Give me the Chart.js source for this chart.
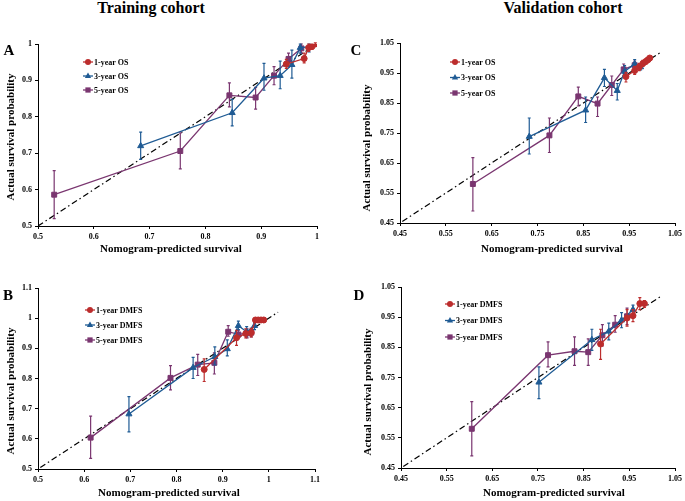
<!DOCTYPE html>
<html><head><meta charset="utf-8">
<script src="https://cdn.jsdelivr.net/npm/chart.js@4.4.1/dist/chart.umd.min.js"></script>
<style>
html,body{margin:0;padding:0;background:#fff;width:685px;height:501px;overflow:hidden;}
#wrap{position:relative;width:685px;height:501px;}
canvas{position:absolute;}
.t{position:absolute;font-family:"Liberation Serif","Times New Roman",serif;font-weight:bold;color:#000;white-space:nowrap;transform:translate(-50%,-50%);line-height:1;}
</style></head><body>
<div id="wrap">
<canvas id="cA" width="345" height="235" style="left:0;top:25px;"></canvas>
<canvas id="cB" width="345" height="231" style="left:0;top:270px;"></canvas>
<canvas id="cC" width="340" height="235" style="left:345px;top:25px;"></canvas>
<canvas id="cD" width="340" height="231" style="left:345px;top:270px;"></canvas>
<div class="t" style="left:151px;top:8px;font-size:16px;">Training cohort</div>
<div class="t" style="left:563px;top:8px;font-size:16px;">Validation cohort</div>
<div class="t" style="left:9px;top:50px;font-size:15px;">A</div>
<div class="t" style="left:8px;top:295px;font-size:15px;">B</div>
<div class="t" style="left:356px;top:50px;font-size:15px;">C</div>
<div class="t" style="left:359px;top:295px;font-size:15px;">D</div>
</div>
<script>
// ---------- Tick labels ----------
const ticksA_x = ['0.5','0.6','0.7','0.8','0.9','1'];
const ticksA_y = ['0.5','0.6','0.7','0.8','0.9','1'];
const ticksB_x = ['0.5','0.6','0.7','0.8','0.9','1','1.1'];
const ticksB_y = ['0.5','0.6','0.7','0.8','0.9','1','1.1'];
const ticksC_x = ['0.45','0.55','0.65','0.75','0.85','0.95','1.05'];
const ticksC_y = ['0.45','0.55','0.65','0.75','0.85','0.95','1.05'];
const ticksD_x = ['0.45','0.55','0.65','0.75','0.85','0.95','1.05'];
const ticksD_y = ['0.45','0.55','0.65','0.75','0.85','0.95','1.05'];

// ---------- Series labels ----------
const labelsOS = ['1-year OS','3-year OS','5-year OS'];
const labelsDMFS = ['1-year DMFS','3-year DMFS','5-year DMFS'];
const xTitle = 'Nomogram-predicted survival';
const yTitle = 'Actual survival probability';

// ---------- Panel A: Training, OS ----------
const A_1y_pred = [0.945, 0.977, 0.985, 0.991, 0.997];
const A_1y_obs  = [0.945, 0.960, 0.990, 0.993, 1.000];
const A_1y_lo   = [0.933, 0.948, 0.980, 0.985, 0.995];
const A_1y_hi   = [0.958, 0.975, 1.000, 1.000, 1.003];
const A_3y_pred = [0.684, 0.848, 0.905, 0.934, 0.955, 0.970, 0.986];
const A_3y_obs  = [0.720, 0.811, 0.906, 0.913, 0.943, 0.990, 0.992];
const A_3y_lo   = [0.683, 0.775, 0.873, 0.877, 0.906, 0.975, 0.978];
const A_3y_hi   = [0.758, 0.848, 0.947, 0.953, 0.983, 1.000, 1.000];
const A_5y_pred = [0.529, 0.755, 0.843, 0.890, 0.923, 0.949, 0.972];
const A_5y_obs  = [0.586, 0.706, 0.859, 0.853, 0.913, 0.959, 0.988];
const A_5y_lo   = [0.520, 0.657, 0.827, 0.821, 0.888, 0.937, 0.975];
const A_5y_hi   = [0.652, 0.756, 0.893, 0.881, 0.938, 0.975, 1.000];
const A_ideal   = [0.5, 1.0];

// ---------- Panel B: Training, DMFS ----------
const B_1y_pred = [0.860, 0.930, 0.950, 0.962, 0.971, 0.977, 0.983, 0.989];
const B_1y_obs  = [0.830, 0.935, 0.949, 0.952, 0.994, 0.994, 0.994, 0.994];
const B_1y_lo   = [0.790, 0.910, 0.935, 0.938, 0.988, 0.988, 0.988, 0.988];
const B_1y_hi   = [0.865, 0.960, 0.965, 0.966, 1.000, 1.000, 1.000, 1.000];
const B_3y_pred = [0.697, 0.836, 0.883, 0.910, 0.934, 0.952, 0.969];
const B_3y_obs  = [0.682, 0.836, 0.872, 0.898, 0.975, 0.955, 0.975];
const B_3y_lo   = [0.623, 0.800, 0.845, 0.875, 0.962, 0.940, 0.962];
const B_3y_hi   = [0.740, 0.870, 0.905, 0.928, 0.990, 0.972, 0.985];
const B_5y_pred = [0.614, 0.787, 0.846, 0.882, 0.912, 0.934, 0.953, 0.962];
const B_5y_obs  = [0.604, 0.802, 0.846, 0.852, 0.955, 0.946, 0.950, 0.952];
const B_5y_lo   = [0.535, 0.762, 0.810, 0.815, 0.940, 0.935, 0.935, 0.938];
const B_5y_hi   = [0.675, 0.843, 0.880, 0.885, 0.975, 0.960, 0.965, 0.966];
const B_ideal   = [0.505, 1.02];

// ---------- Panel C: Validation, OS ----------
const C_1y_pred = [0.943, 0.962, 0.972, 0.980, 0.986, 0.991, 0.995];
const C_1y_obs  = [0.938, 0.958, 0.970, 0.982, 0.988, 0.994, 1.000];
const C_1y_lo   = [0.920, 0.945, 0.958, 0.972, 0.980, 0.988, 0.995];
const C_1y_hi   = [0.952, 0.972, 0.982, 0.992, 0.996, 1.000, 1.004];
const C_3y_pred = [0.732, 0.855, 0.896, 0.924, 0.940, 0.962, 0.975];
const C_3y_obs  = [0.738, 0.826, 0.934, 0.891, 0.955, 0.980, 0.970];
const C_3y_lo   = [0.680, 0.785, 0.905, 0.860, 0.935, 0.965, 0.960];
const C_3y_hi   = [0.800, 0.870, 0.962, 0.915, 0.975, 0.995, 0.980];
const C_5y_pred = [0.609, 0.776, 0.839, 0.881, 0.912, 0.938, 0.962];
const C_5y_obs  = [0.580, 0.742, 0.872, 0.848, 0.910, 0.962, 0.976];
const C_5y_lo   = [0.490, 0.685, 0.840, 0.805, 0.875, 0.940, 0.960];
const C_5y_hi   = [0.668, 0.800, 0.903, 0.870, 0.940, 0.980, 0.990];
const C_ideal   = [0.455, 1.02];

// ---------- Panel D: Validation, DMFS ----------
const D_1y_pred = [0.887, 0.945, 0.958, 0.973, 0.983];
const D_1y_obs  = [0.861, 0.947, 0.955, 0.995, 0.995];
const D_1y_lo   = [0.810, 0.920, 0.935, 0.975, 0.982];
const D_1y_hi   = [0.910, 0.975, 0.975, 1.015, 1.005];
const D_3y_pred = [0.752, 0.868, 0.905, 0.933, 0.958];
const D_3y_obs  = [0.734, 0.875, 0.903, 0.940, 0.975];
const D_3y_lo   = [0.680, 0.840, 0.875, 0.915, 0.960];
const D_3y_hi   = [0.785, 0.910, 0.930, 0.965, 0.990];
const D_5y_pred = [0.605, 0.772, 0.830, 0.860, 0.891, 0.919, 0.945];
const D_5y_obs  = [0.580, 0.824, 0.837, 0.834, 0.890, 0.925, 0.953];
const D_5y_lo   = [0.490, 0.785, 0.790, 0.790, 0.855, 0.900, 0.925];
const D_5y_hi   = [0.670, 0.868, 0.885, 0.878, 0.925, 0.955, 0.980];
const D_ideal   = [0.455, 1.02];

// ---------- Styles ----------
const RED = '#BC2D2D', BLUE = '#1F5B94', PURPLE = '#7A3670';
const FONT = '"Liberation Serif","Times New Roman",serif';

function pts(xs, ys){ return xs.map((x,i)=>({x:x, y:ys[i]})); }

function series(label, color, style, radius, xs, ys, lo, hi){
  return {label, data: pts(xs, ys), errLo: lo, errHi: hi, legendItem: true,
    showLine: true, borderColor: color, backgroundColor: color, borderWidth: 1.3,
    pointStyle: style, pointRadius: radius, pointBorderWidth: 1, pointBorderColor: color,
    pointBackgroundColor: color, tension: 0};
}
function ideal(v){
  return {label: 'ideal', data: pts(v, v), showLine: true, borderColor: '#000', borderWidth: 1.2,
    borderDash: [6,3,1.5,3], pointRadius: 0, backgroundColor:'#000'};
}

const errorBarPlugin = {
  id: 'errorBars',
  afterDatasetDraw(chart, args){
    const ds = chart.data.datasets[args.index];
    if (!ds.errLo) return;
    const xs = chart.scales.x, ys = chart.scales.y, ctx = chart.ctx;
    ctx.save();
    ctx.strokeStyle = ds.borderColor; ctx.lineWidth = 1.2;
    ds.data.forEach((p,i)=>{
      const px = xs.getPixelForValue(p.x);
      const y1 = ys.getPixelForValue(ds.errLo[i]);
      const y2 = ys.getPixelForValue(ds.errHi[i]);
      ctx.beginPath();
      ctx.moveTo(px,y1); ctx.lineTo(px,y2);
      ctx.moveTo(px-1.5,y1); ctx.lineTo(px+1.5,y1);
      ctx.moveTo(px-1.5,y2); ctx.lineTo(px+1.5,y2);
      ctx.stroke();
    });
    ctx.restore();
  }
};

function marker(ctx, style, cx, cy, r){
  ctx.beginPath();
  if (style === 'circle'){ ctx.arc(cx, cy, r, 0, Math.PI*2); }
  else if (style === 'triangle'){
    ctx.moveTo(cx, cy - r); ctx.lineTo(cx + r*0.9, cy + r*0.6); ctx.lineTo(cx - r*0.9, cy + r*0.6); ctx.closePath();
  } else { ctx.rect(cx - r*0.75, cy - r*0.75, r*1.5, r*1.5); }
  ctx.fill();
}

const legendPlugin = {
  id: 'insideLegend',
  afterDraw(chart, args, opts){
    const {ctx, chartArea} = chart;
    ctx.save();
    ctx.font = 'bold 8px ' + FONT;
    ctx.textBaseline = 'middle'; ctx.textAlign = 'left';
    let k = 0;
    chart.data.datasets.forEach(ds=>{
      if (!ds.legendItem) return;
      const cx = chartArea.left + opts.dx, cy = chartArea.top + opts.dy + k*opts.gap;
      ctx.strokeStyle = ds.borderColor; ctx.lineWidth = 1.3;
      ctx.beginPath(); ctx.moveTo(cx-5, cy); ctx.lineTo(cx+5, cy); ctx.stroke();
      ctx.fillStyle = ds.borderColor;
      marker(ctx, ds.pointStyle, cx, cy, ds.pointRadius);
      ctx.fillStyle = '#000';
      ctx.fillText(ds.label, cx + 6, cy + 0.5);
      k++;
    });
    ctx.restore();
  }
};

// axis titles drawn at their place in the reference
const axisTitlePlugin = {
  id: 'axisTitles',
  afterDraw(chart, args, opts){
    const ctx = chart.ctx;
    ctx.save();
    ctx.font = 'bold 11px ' + FONT;
    ctx.fillStyle = '#000';
    ctx.textAlign = 'center'; ctx.textBaseline = 'middle';
    ctx.fillText(opts.xText, opts.xx, opts.xy);
    ctx.translate(opts.yx, opts.yy);
    ctx.rotate(-Math.PI/2);
    ctx.fillText(opts.yText, 0, 0);
    ctx.restore();
  }
};

function axis(labels, fitSize, isX){
  const vals = labels.map(parseFloat);
  return {
    type: 'linear', min: vals[0], max: vals[vals.length-1],
    afterBuildTicks: s => { s.ticks = vals.map(v=>({value:v})); },
    afterFit: s => { if (isX) s.height = fitSize; else s.width = fitSize; },
    ticks: {autoSkip:false, maxRotation:0, color:'#000', padding:3,
      font:{family:FONT, size:8, weight:'bold'}, callback: (v,i)=>labels[i]},
    grid: {display:true, drawOnChartArea:false, drawTicks:true, tickLength:3, color:'#000'},
    border: {display:true, color:'#000', width:1},
    title: {display:false}
  };
}

function makeChart(id, datasets, xl, yl, P){
  new Chart(document.getElementById(id), {
    type: 'scatter',
    data: {datasets},
    plugins: [errorBarPlugin, legendPlugin, axisTitlePlugin],
    options: {
      responsive:false, animation:false, devicePixelRatio:1,
      layout: {padding: {left:0, top:P.top, right:P.right, bottom:0}},
      plugins: {legend:{display:false}, tooltip:{enabled:false},
        insideLegend: {dx:P.ldx, dy:P.ldy, gap:P.lgap},
        axisTitles: {xText:xTitle, yText:yTitle, xx:P.xx, xy:P.xy, yx:P.yx, yy:P.yy}},
      scales: {
        x: axis(xl, P.xh, true),
        y: axis(yl, P.yw, false)
      }
    }
  });
}

makeChart('cA', [
  series(labelsOS[0], RED, 'circle', 3, A_1y_pred, A_1y_obs, A_1y_lo, A_1y_hi),
  series(labelsOS[1], BLUE, 'triangle', 3.5, A_3y_pred, A_3y_obs, A_3y_lo, A_3y_hi),
  series(labelsOS[2], PURPLE, 'rect', 3.5, A_5y_pred, A_5y_obs, A_5y_lo, A_5y_hi),
  ideal(A_ideal)
], ticksA_x, ticksA_y, {top:19, right:28, xh:34, yw:38, ldx:50, ldy:18, lgap:14,
  xx:171, xy:224, yx:11, yy:112});

makeChart('cB', [
  series(labelsDMFS[0], RED, 'circle', 3, B_1y_pred, B_1y_obs, B_1y_lo, B_1y_hi),
  series(labelsDMFS[1], BLUE, 'triangle', 3.5, B_3y_pred, B_3y_obs, B_3y_lo, B_3y_hi),
  series(labelsDMFS[2], PURPLE, 'rect', 3.5, B_5y_pred, B_5y_obs, B_5y_lo, B_5y_hi),
  ideal(B_ideal)
], ticksB_x, ticksB_y, {top:18, right:30, xh:32, yw:38, ldx:52, ldy:22, lgap:15,
  xx:169, xy:223, yx:11.5, yy:121});

makeChart('cC', [
  series(labelsOS[0], RED, 'circle', 3, C_1y_pred, C_1y_obs, C_1y_lo, C_1y_hi),
  series(labelsOS[1], BLUE, 'triangle', 3.5, C_3y_pred, C_3y_obs, C_3y_lo, C_3y_hi),
  series(labelsOS[2], PURPLE, 'rect', 3.5, C_5y_pred, C_5y_obs, C_5y_lo, C_5y_hi),
  ideal(C_ideal)
], ticksC_x, ticksC_y, {top:18, right:8, xh:37, yw:55, ldx:55, ldy:19, lgap:15.5,
  xx:207, xy:224, yx:22, yy:123});

makeChart('cD', [
  series(labelsDMFS[0], RED, 'circle', 3, D_1y_pred, D_1y_obs, D_1y_lo, D_1y_hi),
  series(labelsDMFS[1], BLUE, 'triangle', 3.5, D_3y_pred, D_3y_obs, D_3y_lo, D_3y_hi),
  series(labelsDMFS[2], PURPLE, 'rect', 3.5, D_5y_pred, D_5y_obs, D_5y_lo, D_5y_hi),
  ideal(D_ideal)
], ticksD_x, ticksD_y, {top:17, right:8, xh:33, yw:56, ldx:49, ldy:17, lgap:16.5,
  xx:209, xy:223, yx:23, yy:122});
</script>
</body></html>
